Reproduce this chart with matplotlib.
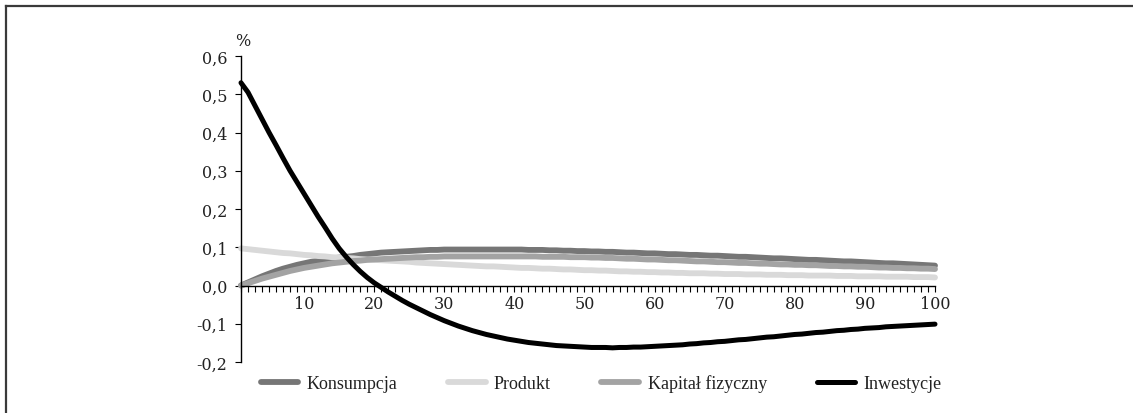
import matplotlib
matplotlib.use('Agg')
import matplotlib.pyplot as plt
from matplotlib.lines import Line2D
from matplotlib.ticker import FuncFormatter

# okresy 1..100
periods = list(range(1, 101))

konsumpcja = [
    0.000, 0.008, 0.016, 0.024, 0.031, 0.038, 0.044, 0.049, 0.054, 0.058,
    0.062, 0.065, 0.068, 0.071, 0.073, 0.075, 0.077, 0.080, 0.082, 0.084,
    0.086, 0.087, 0.088, 0.089, 0.090, 0.091, 0.092, 0.093, 0.093, 0.094,
    0.094, 0.094, 0.094, 0.094, 0.094, 0.094, 0.094, 0.094, 0.094, 0.094,
    0.094, 0.093, 0.093, 0.093, 0.092, 0.092, 0.091, 0.091, 0.090, 0.090,
    0.089, 0.089, 0.088, 0.088, 0.087, 0.086, 0.086, 0.085, 0.084, 0.084,
    0.083, 0.082, 0.082, 0.081, 0.080, 0.080, 0.079, 0.078, 0.078, 0.077,
    0.076, 0.075, 0.075, 0.074, 0.073, 0.072, 0.071, 0.071, 0.070, 0.069,
    0.068, 0.067, 0.067, 0.066, 0.065, 0.064, 0.063, 0.063, 0.062, 0.061,
    0.060, 0.059, 0.058, 0.058, 0.057, 0.056, 0.055, 0.054, 0.053, 0.052,
]

produkt = [
    0.097, 0.095, 0.093, 0.091, 0.089, 0.087, 0.085, 0.084, 0.082, 0.080,
    0.079, 0.077, 0.076, 0.074, 0.073, 0.072, 0.071, 0.069, 0.068, 0.067,
    0.066, 0.065, 0.064, 0.063, 0.062, 0.060, 0.059, 0.058, 0.057, 0.056,
    0.055, 0.054, 0.053, 0.052, 0.051, 0.050, 0.050, 0.049, 0.048, 0.047,
    0.046, 0.046, 0.045, 0.044, 0.044, 0.043, 0.042, 0.042, 0.041, 0.040,
    0.040, 0.039, 0.039, 0.038, 0.037, 0.037, 0.036, 0.036, 0.035, 0.035,
    0.034, 0.034, 0.033, 0.033, 0.032, 0.032, 0.032, 0.031, 0.031, 0.030,
    0.030, 0.030, 0.029, 0.029, 0.029, 0.028, 0.028, 0.028, 0.027, 0.027,
    0.027, 0.026, 0.026, 0.026, 0.026, 0.025, 0.025, 0.025, 0.024, 0.024,
    0.024, 0.024, 0.023, 0.023, 0.023, 0.023, 0.022, 0.022, 0.022, 0.021,
]

kapital = [
    0.000, 0.006, 0.012, 0.018, 0.023, 0.028, 0.033, 0.038, 0.042, 0.046,
    0.049, 0.052, 0.055, 0.058, 0.060, 0.062, 0.064, 0.065, 0.067, 0.068,
    0.069, 0.070, 0.071, 0.072, 0.073, 0.074, 0.074, 0.075, 0.075, 0.076,
    0.076, 0.076, 0.076, 0.076, 0.076, 0.076, 0.076, 0.076, 0.076, 0.076,
    0.076, 0.076, 0.076, 0.075, 0.075, 0.075, 0.075, 0.074, 0.074, 0.074,
    0.073, 0.073, 0.072, 0.072, 0.071, 0.070, 0.070, 0.069, 0.068, 0.068,
    0.067, 0.066, 0.066, 0.065, 0.064, 0.063, 0.063, 0.062, 0.061, 0.061,
    0.060, 0.059, 0.059, 0.058, 0.057, 0.057, 0.056, 0.055, 0.055, 0.054,
    0.054, 0.053, 0.053, 0.052, 0.051, 0.051, 0.050, 0.050, 0.049, 0.049,
    0.048, 0.047, 0.047, 0.046, 0.046, 0.045, 0.045, 0.044, 0.044, 0.043,
]

inwestycje = [
    0.530, 0.505, 0.470, 0.435, 0.400, 0.367, 0.333, 0.300, 0.270, 0.240,
    0.210, 0.180, 0.152, 0.123, 0.097, 0.075, 0.055, 0.037, 0.021, 0.007,
    -0.005, -0.017, -0.028, -0.039, -0.049, -0.058, -0.067, -0.076, -0.084, -0.092,
    -0.099, -0.106, -0.112, -0.118, -0.123, -0.128, -0.132, -0.136, -0.140, -0.143,
    -0.146, -0.149, -0.151, -0.153, -0.155, -0.157, -0.158, -0.159, -0.160, -0.161,
    -0.162, -0.162, -0.162, -0.163, -0.162, -0.162, -0.161, -0.161, -0.160, -0.159,
    -0.158, -0.157, -0.156, -0.155, -0.153, -0.152, -0.150, -0.149, -0.147, -0.146,
    -0.144, -0.142, -0.141, -0.139, -0.137, -0.135, -0.134, -0.132, -0.130, -0.128,
    -0.127, -0.125, -0.123, -0.122, -0.120, -0.118, -0.117, -0.115, -0.114, -0.112,
    -0.111, -0.110, -0.108, -0.107, -0.106, -0.105, -0.104, -0.103, -0.102, -0.101,
]

series_names = ['Konsumpcja', 'Produkt', 'Kapitał fizyczny', 'Inwestycje']
series_colors = ['#767676', '#d9d9d9', '#a3a3a3', '#000000']
series_widths = [4.2, 4.2, 4.2, 3.6]
y_ticks = [-0.2, -0.1, 0.0, 0.1, 0.2, 0.3, 0.4, 0.5, 0.6]
x_label_ticks = list(range(10, 101, 10))

fig = plt.figure(figsize=(11.33, 4.14), dpi=100)
ax = fig.add_axes([241 / 1133, 1 - 363 / 414, (935 - 241) / 1133, (363 - 57) / 414])

for vals, name, col, lw in zip([konsumpcja, produkt, kapital, inwestycje],
                               series_names, series_colors, series_widths):
    ax.plot(periods, vals, color=col, lw=lw, label=name,
            solid_capstyle='round', clip_on=False)

ax.set_xlim(1, 100)
ax.set_ylim(-0.2, 0.6)

# spines like in Excel chart
ax.spines['top'].set_visible(False)
ax.spines['right'].set_visible(False)
ax.spines['bottom'].set_position(('data', 0))
for s in ['left', 'bottom']:
    ax.spines[s].set_color('black')
    ax.spines[s].set_linewidth(1.0)

ax.set_yticks(y_ticks)
ax.yaxis.set_major_formatter(FuncFormatter(lambda v, p: f"{v:.1f}".replace('.', ',').replace('-0,0', '0,0')))
ax.set_xticks(periods)
ax.set_xticklabels([str(p) if p in x_label_ticks else '' for p in periods])
ax.tick_params(axis='x', direction='out', length=4, width=0.8, pad=3, labelsize=11.5)
ax.tick_params(axis='y', direction='out', length=4, width=0.8, pad=6, labelsize=11.5)
for lab in ax.get_xticklabels() + ax.get_yticklabels():
    lab.set_family('DejaVu Serif')
    lab.set_color('#222222')

fig.text(243 / 1133, 1 - 42 / 414, '%', family='DejaVu Serif', fontsize=11.5,
         ha='center', va='center', color='#222222')

leg = ax.legend(loc='center', bbox_to_anchor=(601 / 1133, 1 - 384 / 414),
                bbox_transform=fig.transFigure, ncol=4, frameon=False,
                handlelength=2.1, handletextpad=0.45, columnspacing=2.8,
                prop={'family': 'Liberation Serif', 'size': 13})
for t in leg.get_texts():
    t.set_color('#222222')

# ramka wokol wykresu (przycieta z prawej i od dolu)
fig.add_artist(Line2D([6 / 1133, 1], [1 - 7 / 414, 1 - 7 / 414], transform=fig.transFigure,
                      color='#3a3a3a', lw=1.6))
fig.add_artist(Line2D([6 / 1133, 6 / 1133], [1 - 7 / 414, 0], transform=fig.transFigure,
                      color='#3a3a3a', lw=1.6))

fig.savefig('out.png', dpi=100)
